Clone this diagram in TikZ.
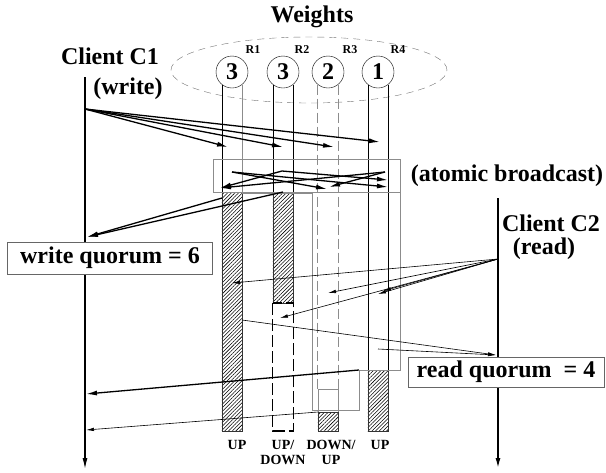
\documentclass[tikz,border=0pt]{standalone}
\usepackage{fontspec}
\setmainfont{Liberation Serif}
\usetikzlibrary{arrows.meta, patterns.meta, positioning}

\tikzset{
  big/.style = {font=\bfseries\fontsize{24}{26}\selectfont, inner sep=0pt},
  small/.style = {font=\bfseries\fontsize{12}{13}\selectfont, inner sep=0pt},
  tag/.style = {font=\bfseries\fontsize{14}{15}\selectfont, inner sep=0pt, align=center},
  weight/.style = {circle, draw, thin, minimum size=32pt, inner sep=0pt,
                   font=\bfseries\fontsize{24}{26}\selectfont},
  quorum/.style = {draw=black!60, thin, fill=white, text=black, inner sep=0pt,
                   font=\bfseries\fontsize{24}{26}\selectfont},
  hatched/.style = {pattern={Lines[angle=45, distance=2.6pt, line width=0.55pt]},
                    draw=black!80, thin},
  outline/.style = {draw=black!45, thin},
  msg/.style = {->, line width=1.3pt},
  thinmsg/.style = {->, >={Latex[length=8pt,width=3.5pt]}, line width=0.6pt},
}

\begin{document}
\begin{tikzpicture}[x=1pt, y=-1pt, on grid, >={Latex[length=11pt,width=5pt]}]
  \useasboundingbox (0,0) rectangle (606,472);

  \coordinate (boxnw) at (213,159);
  \coordinate (boxse) at (400,192);
  \coordinate (floor) at (0,431);

  \node[big] (title) at (312,17) {Weights};
  \draw[black!55, dash pattern=on 7pt off 5pt] (309,70) ellipse [x radius=138pt, y radius=33pt];

  \node[weight] (w1) at (232,72) {3};
  \node[weight] (w2) at (283,72) {3};
  \node[weight] (w3) at (328,72) {2};
  \node[weight] (w4) at (378,72) {1};
  \node[small] (r1) [above right=22pt and 21pt of w1] {R1};
  \node[small] (r2) [above right=22pt and 19pt of w2] {R2};
  \node[small] (r3) [above right=22pt and 22pt of w3] {R3};
  \node[small] (r4) [above right=22pt and 20pt of w4] {R4};

  % replica R1
  \draw[thin] (w1.-129) -- (w1.-129 |- floor);
  \draw[outline] (w1.-51) -- (w1.-51 |- floor);
  \draw[hatched] (w1.-129 |- boxse) rectangle (w1.-51 |- floor);

  % replica R2
  \draw[thin] (w2.-129) -- (w2.-129 |- boxse);
  \draw[thin] (w2.-51) -- (w2.-51 |- boxse);
  \coordinate (r2down) at (0,303);
  \draw[hatched] (w2.-129 |- boxse) rectangle (w2.-51 |- r2down);
  \draw[line width=1.2pt, dash pattern=on 12pt off 4pt] (w2.-129 |- r2down) rectangle (w2.-51 |- floor);

  % replica R3
  \coordinate (r3up) at (0,389);
  \coordinate (r3on) at (0,412);
  \draw[black!45, line width=0.9pt, dash pattern=on 10pt off 4pt] (w3.-129) -- (w3.-129 |- r3up);
  \draw[black!45, line width=0.9pt, dash pattern=on 10pt off 4pt] (w3.-51) -- (w3.-51 |- r3up);
  \draw[outline] (w3.-129 |- r3up) rectangle (w3.-51 |- r3on);
  \draw[hatched] (w3.-129 |- r3on) rectangle (w3.-51 |- floor);

  % replica R4
  \coordinate (r4up) at (0,370);
  \draw[thin] (w4.-129) -- (w4.-129 |- r4up);
  \draw[thin] (w4.-51) -- (w4.-51 |- r4up);
  \draw[hatched] (w4.-129 |- r4up) rectangle (w4.-51 |- floor);

  % atomic broadcast box and state outline
  \draw[outline] (boxnw) rectangle (boxse);
  \draw[outline] (242,193) -- (312,193) -- (312,410) -- (359,410) -- (359,370)
    -- (400,370) -- (boxse);

  \node[tag] (s1) at (237,445) {UP};
  \node[tag] (s2) at (283,452) {UP/\\DOWN};
  \node[tag] (s3) at (331,452) {DOWN/\\UP};
  \node[tag] (s4) at (380,445) {UP};

  % clients
  \node[big] (c1name) at (110,56) {Client C1};
  \node[big] (c1op) [below right=33pt and 18pt of c1name] {(write)};
  \node[big] (c2name) at (551,223) {Client C2};
  \node[big] (c2op) [below left=26pt and 7pt of c2name] {(read)};
  \node[big] (abcast) at (507,176) {(atomic broadcast)};

  \coordinate (c1top) at (85,77);
  \coordinate (c1end) at (85,469);
  \coordinate (c2top) at (498,198);
  \coordinate (c2end) at (498,469);
  \draw[->, line width=1.2pt] (c1top) -- (c1end);
  \draw[->, line width=1.8pt] (c2top) -- (c2end);

  \node[quorum, minimum width=205pt, minimum height=32pt] (wq) at (110,258) {write quorum = 6};
  \node[quorum, minimum width=196pt, minimum height=30pt] (rq) at (506,372) {read quorum \ = 4};

  % write requests
  \coordinate (c1send) at (85,109);
  \coordinate (in1) at (228,147);
  \coordinate (in2) at (283,147);
  \coordinate (in3) at (334,147);
  \coordinate (in4) at (380,142);
  \path[msg]
    (c1send) edge (in1)
             edge (in2)
             edge (in3)
             edge (in4);

  % ordering messages
  \coordinate (b1) at (232,172);
  \coordinate (b2) at (282,171);
  \coordinate (b4) at (385,172);
  \coordinate (t1) at (220,188);
  \coordinate (t3a) at (327,189);
  \coordinate (t3b) at (329,187);
  \coordinate (t4a) at (388,180);
  \coordinate (t4b) at (388,187);
  \path[msg]
    (b1) edge (t3a)
         edge (t4b)
    (b2) edge (t1)
         edge (t4a)
    (b4) edge (t1)
         edge (t3b);

  % write acknowledgements
  \coordinate (a1) at (222,198);
  \coordinate (a2) at (283,192);
  \coordinate (c1wq) at (87,237);
  \path[msg]
    (a1) edge (c1wq)
    (a2) edge (c1wq);

  % read requests and replies
  \coordinate (c2send) at (498,259);
  \coordinate (rd1) at (232,283);
  \coordinate (rd2) at (280,318);
  \coordinate (rd3) at (328,293);
  \coordinate (rd4) at (378,294);
  \coordinate (rd4b) at (383,291);
  \coordinate (rp1) at (242,320);
  \coordinate (rp4) at (378,349);
  \coordinate (c2rq) at (496,355);
  \path[thinmsg]
    (c2send) edge (rd1)
             edge (rd2)
             edge (rd3)
             edge (rd4)
             edge (rd4b)
    (rp1) edge (c2rq)
    (rp4) edge (c2rq);

  % late replies to C1
  \coordinate (k4) at (359,370);
  \coordinate (k3) at (318,412);
  \coordinate (c1ack) at (86,394);
  \coordinate (c1late) at (86,430);
  \path[msg] (k4) edge (c1ack);
  \path[thinmsg] (k3) edge (c1late);
\end{tikzpicture}
\end{document}
